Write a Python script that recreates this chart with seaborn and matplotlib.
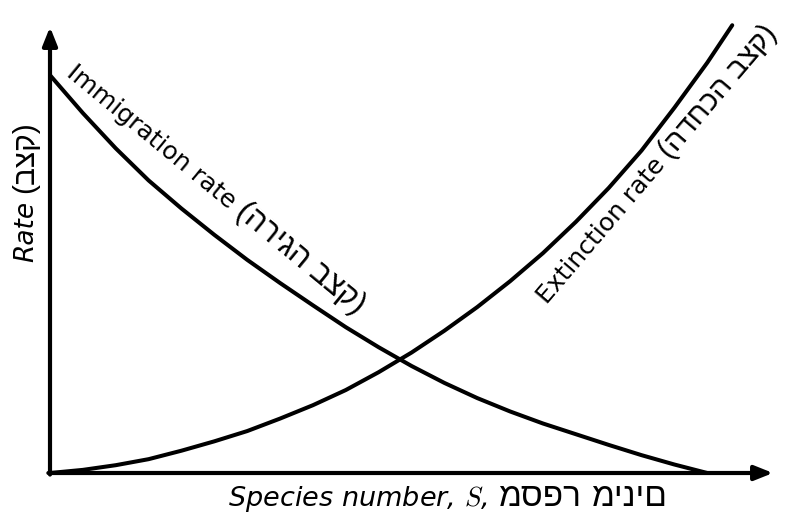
import numpy as np
import pandas as pd
import matplotlib
matplotlib.use("Agg")
import matplotlib.pyplot as plt
import seaborn as sns

# Species number on the island (arbitrary units)
species = [0, 5, 10, 15, 20, 25, 30, 35, 40, 45, 50,
           55, 60, 65, 70, 75, 80, 85, 90, 95, 100]
# Immigration rate falls as the island fills up
immigration = [89.2, 80.7, 72.8, 65.6, 59.3, 53.4, 47.8, 42.6, 37.6, 32.7, 28.2,
               24.0, 20.2, 16.8, 13.8, 11.1, 8.7, 6.3, 4.0, 1.9, 0.0]
# Extinction rate rises with the number of species present
species_ext = [0, 5, 10, 15, 20, 25, 30, 35, 40, 45, 50,
               55, 60, 65, 70, 75, 80, 85, 90, 95, 100, 103.8]
extinction = [0.0, 0.7, 1.75, 3.1, 5.0, 7.1, 9.4, 12.2, 15.2, 18.6, 22.6,
              27.0, 31.9, 37.2, 43.0, 49.3, 56.3, 63.9, 72.3, 81.9, 92.0, 100.4]

x_label_en = "Species number, $S$,"
x_label_he = ["מספר", "מינים"]
y_label_en = "Rate"
y_label_he = "(בצק)"
imm_label_en = "Immigration rate"
imm_label_he = "(הריגה בצק)"
ext_label_en = "Extinction rate"
ext_label_he = "(הדחכה בצק)"

sns.set_style("white")
plt.rcParams["font.family"] = ["DejaVu Sans"]
plt.rcParams["mathtext.fontset"] = "cm"

LATIN = ["DejaVu Sans"]
HEBREW = ["Liberation Sans", "DejaVu Sans"]

W, H = 791, 513
fig = plt.figure(figsize=(W / 100, H / 100), dpi=100)
ax = fig.add_axes([50 / W, 40 / H, 723 / W, 446 / H])

df = pd.concat([
    pd.DataFrame({"S": species, "rate": immigration, "curve": "immigration"}),
    pd.DataFrame({"S": species_ext, "rate": extinction, "curve": "extinction"}),
])
sns.lineplot(data=df, x="S", y="rate", hue="curve", palette=["black", "black"],
             linewidth=2.9, legend=False, ax=ax, sort=False)
for ln in ax.get_lines():
    ln.set_clip_on(False)
    ln.set_solid_capstyle("round")
    ln.set_solid_joinstyle("round")

ax.set_xlim(0, 110)
ax.set_ylim(0, 100)
ax.set_xticks([])
ax.set_yticks([])
ax.set_xlabel("")
ax.set_ylabel("")
for sp in ax.spines.values():
    sp.set_visible(False)

# Axes drawn as arrows
arrow = dict(arrowstyle="-|>,head_length=0.55,head_width=0.22", lw=3,
             color="black", shrinkA=0, shrinkB=0, mutation_scale=20)
ax.annotate("", xy=(110, 0), xytext=(-0.25, 0), xycoords="data",
            arrowprops=arrow, annotation_clip=False)
ax.annotate("", xy=(0, 100), xytext=(0, -0.35), xycoords="data",
            arrowprops=arrow, annotation_clip=False)

renderer = fig.canvas.get_renderer()


def text_run(parts, x, y, rot):
    """Lay out text pieces one after another along a rotated baseline.
    x, y are pixel positions measured from the top-left corner."""
    ang = np.deg2rad(rot)
    d = np.array([np.cos(ang), np.sin(ang)])
    pos = np.array([x, H - y], dtype=float)
    for s, style, size, family, gap in parts:
        t = fig.text(pos[0] / W, pos[1] / H, s, rotation=0, rotation_mode="anchor",
                     ha="left", va="baseline", fontsize=size, style=style,
                     family=family, color="black")
        w = t.get_window_extent(renderer).width
        t.set_rotation(rot)
        pos = pos + d * (w + gap)


text_run([(x_label_en, "italic", 19.5, LATIN, 10),
          (x_label_he[0], "normal", 24, HEBREW, 10),
          (x_label_he[1], "normal", 24, HEBREW, 0)], 228, 506, 0)
text_run([(y_label_en, "italic", 19, LATIN, 8),
          (y_label_he, "normal", 21.5, HEBREW, 0)], 33, 262, 90)
text_run([(imm_label_en, "normal", 18, LATIN, 8),
          (imm_label_he, "normal", 22, HEBREW, 0)], 65, 75, -39.5)
text_run([(ext_label_en, "normal", 18, LATIN, 7),
          (ext_label_he, "normal", 21, HEBREW, 0)], 547, 305, 49.5)

fig.savefig("out.png", dpi=100)
